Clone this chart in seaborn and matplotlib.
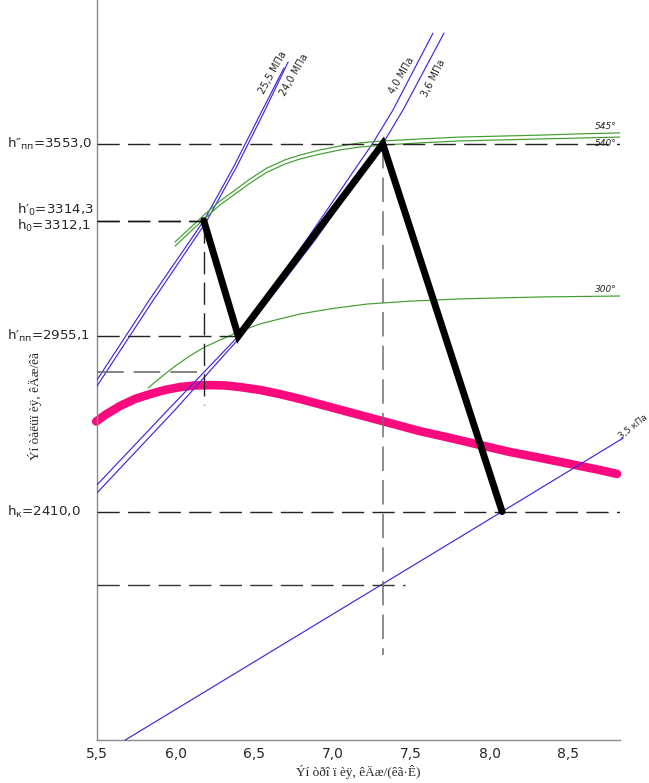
import matplotlib
matplotlib.use("Agg")
import matplotlib.pyplot as plt
import matplotlib.transforms as mtransforms
import seaborn as sns

# entropy s, kJ/(kg K) / enthalpy h, kJ/kg

# turbine process line
proc_s = [6.18, 6.40, 7.32, 8.08]
proc_h = [3314.3, 2955.1, 3553.0, 2410.0]

# isobars
p255_s = [5.50, 5.838, 6.18, 6.373, 6.538, 6.691]
p255_h = [2819, 3071, 3314, 3484, 3643, 3789]
p240_s = [5.50, 5.850, 6.195, 6.392, 6.564, 6.717]
p240_h = [2800, 3061, 3310, 3484, 3652, 3807]
p40_s = [5.50, 5.952, 6.40, 6.825, 7.258, 7.385, 7.640]
p40_h = [2493, 2726, 2955, 3248, 3556, 3658, 3897]
p36_s = [5.50, 5.997, 6.43, 6.889, 7.32, 7.449, 7.710]
p36_h = [2468, 2726, 2962, 3254, 3553, 3658, 3897]
pk_s = [5.68, 8.08, 8.85]
pk_h = [1700, 2410, 2638]

# isotherms
t54_s = [5.997, 6.092, 6.182, 6.283, 6.379, 6.475, 6.583, 6.697, 6.793,
         6.920, 7.048, 7.175, 7.322, 7.557, 7.812, 8.067, 8.322, 8.577, 8.831]
t545_h = [3248, 3291, 3332, 3375, 3409, 3444, 3478, 3503, 3518,
          3534, 3546, 3556, 3562, 3568, 3574, 3577, 3580, 3584, 3587]
t540_h = [3235, 3279, 3319, 3363, 3397, 3431, 3465, 3490, 3506,
          3521, 3534, 3543, 3549, 3556, 3562, 3565, 3568, 3571, 3574]
t300_s = [5.825, 5.901, 5.997, 6.092, 6.188, 6.283, 6.411, 6.538, 6.666,
          6.793, 6.984, 7.220, 7.494, 7.812, 8.322, 8.831]
t300_h = [2794, 2825, 2862, 2894, 2922, 2943, 2971, 2993, 3009,
          3024, 3040, 3055, 3064, 3071, 3077, 3080]

# pink curve
sat_s = [5.495, 5.551, 5.646, 5.742, 5.838, 5.933, 6.029, 6.124, 6.220,
         6.315, 6.411, 6.538, 6.666, 6.793, 6.984, 7.175, 7.366, 7.557,
         7.748, 7.939, 8.131, 8.322, 8.513, 8.704, 8.812]
sat_h = [2690, 2710, 2738, 2760, 2775, 2788, 2797, 2802, 2803,
         2802, 2797, 2788, 2775, 2760, 2735, 2710, 2685, 2660,
         2639, 2617, 2595, 2577, 2558, 2539, 2527]

x_ticks = [5.5, 6.0, 6.5, 7.0, 7.5, 8.0, 8.5]
x_tick_labels = ["5,5", "6,0", "6,5", "7,0", "7,5", "8,0", "8,5"]

sns.set_style("white")
plt.rcParams["font.family"] = ["DejaVu Sans"]
plt.rcParams["mathtext.fontset"] = "dejavusans"

BLUE = "#4226dc"
GREEN = "#3f9e2c"
PINK = "#fa0a7c"

fig = plt.figure(figsize=(6.49, 7.83), dpi=100)
ax = fig.add_axes([97 / 649, 43 / 783, 523 / 649, 740 / 783])
ax.set_xlim(5.5, 8.831)
ax.set_ylim(1700, 4000)

# saturation-like curve
sns.lineplot(x=sat_s, y=sat_h, sort=False, color=PINK, lw=6.2,
             solid_capstyle="round", ax=ax, clip_on=False, zorder=2)

# isobars
for xs, ys in [(p255_s, p255_h), (p240_s, p240_h), (p40_s, p40_h),
               (p36_s, p36_h)]:
    sns.lineplot(x=xs, y=ys, sort=False, color=BLUE, lw=0.85, ax=ax, zorder=3)
sns.lineplot(x=pk_s, y=pk_h, sort=False, color=BLUE, lw=0.85, ax=ax,
             clip_on=False, zorder=3)

# isotherms
for xs, ys in [(t54_s, t545_h), (t54_s, t540_h), (t300_s, t300_h)]:
    sns.lineplot(x=xs, y=ys, sort=False, color=GREEN, lw=0.85, ax=ax, zorder=3)

# dashed helper lines
dash = dict(lw=1.0, dashes=(16, 6), zorder=4)
ax.plot([5.5, 8.831], [3553.0, 3553.0], color="#222222", **dash)
ax.plot([5.5, 6.18], [3314.3, 3314.3], color="#111111", **dash)
ax.plot([5.5, 6.18], [3312.1, 3312.1], color="#111111", **dash)
ax.plot([5.5, 6.40], [2955.1, 2955.1], color="#222222", **dash)
ax.plot([5.5, 6.18], [2844, 2844], color="#6e6e6e", lw=1.2, dashes=(16, 6), zorder=4)
ax.plot([5.5, 8.831], [2410.0, 2410.0], color="#222222", **dash)
ax.plot([5.5, 7.462], [2182, 2182], color="#333333", **dash)
ax.plot([6.18, 6.18], [3314.3, 2741], color="#222222", **dash)
ax.plot([7.32, 7.32], [3553.0, 1964], color="#6e6e6e", lw=1.1, dashes=(16, 6), zorder=4)

# process line
sns.lineplot(x=proc_s, y=proc_h, sort=False, color="black", lw=5.0, ax=ax,
             zorder=5)
ax.lines[-1].set_solid_joinstyle("miter")

# curve labels
lab = dict(fontsize=7, ha="center", va="center", rotation_mode="anchor")
ax.text(6.621, 3773, "25,5 МПа", rotation=61, **lab)
ax.text(6.755, 3767, "24,0 МПа", rotation=60, **lab)
ax.text(7.443, 3764, "4,0 МПа", rotation=60, **lab)
ax.text(7.646, 3758, "3,6 МПа", rotation=63, **lab)
ax.text(8.845, 2631, "3,5 кПа", rotation=38, fontsize=6.3, ha="left",
        va="bottom", rotation_mode="anchor", clip_on=False)
tl = dict(fontsize=6.5, style="italic", ha="right", va="center")
ax.text(8.812, 3607, "545°", **tl)
ax.text(8.812, 3553, "540°", **tl)
ax.text(8.812, 3101, "300°", **tl)

# enthalpy values on the left
tr = mtransforms.blended_transform_factory(fig.transFigure, ax.transData)
vl = dict(fontsize=9.6, ha="left", va="center", transform=tr)
ax.text(7 / 649, 3553, "h″$_{\\mathregular{пп}}$=3553,0", **vl)
ax.text(17 / 649, 3348, "h′$_{\\mathregular{0}}$=3314,3", **vl)
ax.text(17 / 649, 3298, "h$_{\\mathregular{0}}$=3312,1", **vl)
ax.text(7 / 649, 2955, "h′$_{\\mathregular{пп}}$=2955,1", **vl)
ax.text(7 / 649, 2410, "h$_{\\mathregular{к}}$=2410,0", **vl)

# axes
for side in ["top", "right"]:
    ax.spines[side].set_visible(False)
for side in ["left", "bottom"]:
    ax.spines[side].set_color("#8a8a8a")
    ax.spines[side].set_linewidth(1.0)
ax.set_xticks(x_ticks)
ax.set_xticklabels(x_tick_labels, fontsize=10)
ax.set_yticks([])
ax.tick_params(axis="x", length=0, pad=5)
ax.set_xlabel("Ýí òðî ï èÿ, êÄæ/(êã·Ê)", family="Liberation Serif",
              fontsize=9.5, labelpad=3)
fig.text(35 / 649, 1 - 406 / 783, "Ýí òàëüï èÿ, êÄæ/êã", rotation=90,
         family="Liberation Serif", fontsize=9.5, ha="center", va="center")

fig.savefig("out.png", dpi=100)
